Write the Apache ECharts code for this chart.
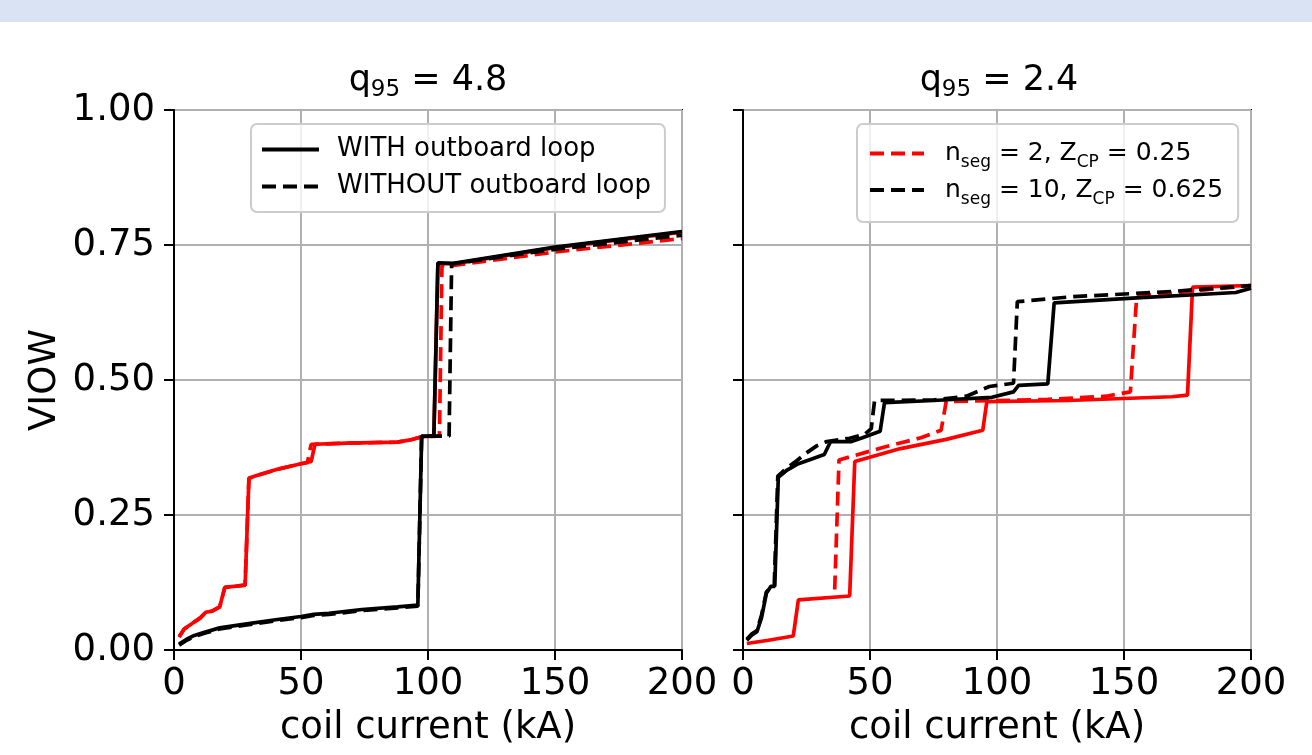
<!DOCTYPE html>
<html><head><meta charset="utf-8">
<script src="https://cdn.jsdelivr.net/npm/echarts@6/dist/echarts.min.js"></script>
<style>html,body{margin:0;padding:0;background:#fff}#c{width:1312px;height:755px}</style>
</head><body><div id="c"></div><script>
// ---------- data ----------
const xTicks = [0, 50, 100, 150, 200];
const yTicks = [0, 0.25, 0.5, 0.75, 1.0];
const titles = ['4.8', '2.4'];
const xName = 'coil current (kA)';
const yName = 'VIOW';

// Panel q95 = 4.8
const A_blackSolid = [[2,0.011],[5,0.02],[8,0.027],[12,0.033],[18,0.041],[28,0.048],[40,0.056],[50,0.062],[55,0.066],[61,0.068],[74,0.075],[88,0.080],[96,0.083],[97.5,0.396],[102.3,0.396],[103.9,0.717],[110,0.716],[150,0.746],[200,0.775]];
const A_blackDashed = [[2,0.009],[5,0.018],[8,0.025],[12,0.031],[18,0.039],[28,0.046],[40,0.054],[50,0.06],[55,0.064],[61,0.066],[74,0.073],[88,0.078],[96,0.081],[97.5,0.396],[108.3,0.396],[109.3,0.715],[150,0.742],[200,0.768]];
const A_redSolid = [[2,0.024],[4,0.039],[8,0.052],[10.5,0.06],[12.5,0.07],[15,0.072],[18,0.08],[20,0.116],[28,0.12],[29.5,0.318],[32.5,0.323],[41,0.335],[50,0.345],[54,0.349],[55.5,0.381],[68,0.383],[88,0.385],[93,0.389],[97.5,0.395],[102.3,0.396],[103.9,0.716],[110,0.715],[150,0.745],[200,0.774]];
const A_redDashed = [[2,0.024],[4,0.039],[8,0.052],[10.5,0.06],[12.5,0.07],[15,0.072],[18,0.08],[20,0.116],[28,0.12],[29.5,0.318],[32.5,0.323],[41,0.335],[50,0.345],[52.5,0.347],[54,0.381],[68,0.383],[88,0.385],[93,0.389],[97.5,0.395],[104.5,0.396],[105.5,0.712],[110,0.712],[150,0.737],[200,0.762]];

// Panel q95 = 2.4
const B_blackSolid = [[1.5,0.018],[3.5,0.028],[5.5,0.034],[7.3,0.06],[9.2,0.105],[11,0.118],[12.5,0.118],[13.2,0.22],[13.9,0.32],[17,0.332],[21.8,0.345],[26,0.352],[32,0.362],[34.5,0.386],[42.7,0.386],[47,0.393],[54,0.405],[55.7,0.458],[75,0.462],[98,0.468],[106.5,0.478],[108.5,0.49],[120,0.493],[122.5,0.643],[155,0.652],[194,0.662],[200,0.67]];
const B_blackDashed = [[1.5,0.02],[3.5,0.03],[5.5,0.036],[7.3,0.065],[9.2,0.107],[11,0.118],[12.3,0.12],[13,0.22],[13.7,0.322],[17,0.336],[21,0.35],[25,0.365],[29,0.378],[33,0.386],[42,0.392],[48,0.4],[50.5,0.41],[51.8,0.462],[75,0.463],[88,0.47],[97,0.488],[106.5,0.494],[108,0.645],[129,0.654],[169,0.664],[200,0.675]];
const B_redSolid = [[1.5,0.012],[10,0.018],[19.8,0.026],[21.8,0.093],[42,0.1],[44,0.349],[62,0.373],[80,0.39],[94.4,0.407],[96,0.46],[128,0.462],[168.8,0.469],[175,0.472],[177,0.672],[200,0.675]];
const B_redDashed = [[36.1,0.112],[37.8,0.352],[55,0.375],[70,0.393],[78,0.407],[80,0.46],[120,0.464],[143,0.47],[152.5,0.478],[155,0.655],[200,0.675]];

// ---------- styling ----------
const FF = 'DejaVu Sans';
const DASH = [14, 7];
const LW = 3.7;
const TICK_FS = 37;

function axisX(gi) {
  return {
    gridIndex: gi, type: 'value', min: xTicks[0], max: xTicks[xTicks.length-1], interval: xTicks[1]-xTicks[0],
    name: xName, nameLocation: 'middle', nameGap: 60,
    nameTextStyle: {fontFamily: FF, fontSize: TICK_FS, color: '#000'},
    axisLine: {show: true, onZero: false, lineStyle: {color: '#000', width: 2}},
    axisTick: {show: true, inside: false, length: 10, lineStyle: {color: '#000', width: 2}},
    axisLabel: {show: true, fontFamily: FF, fontSize: TICK_FS, color: '#000', margin: 16},
    splitLine: {show: true, lineStyle: {color: '#b0b0b0', width: 2}}
  };
}
function axisY(gi, labels) {
  return {
    gridIndex: gi, type: 'value', min: yTicks[0], max: yTicks[yTicks.length-1], interval: yTicks[1]-yTicks[0],
    name: labels ? yName : '', nameLocation: 'middle', nameGap: 110, nameRotate: 90,
    nameTextStyle: {fontFamily: FF, fontSize: TICK_FS, color: '#000'},
    axisLine: {show: true, onZero: false, lineStyle: {color: '#000', width: 2}},
    axisTick: {show: true, inside: false, length: 10, lineStyle: {color: '#000', width: 2}},
    axisLabel: {show: labels, fontFamily: FF, fontSize: TICK_FS, color: '#000', margin: 19, formatter: v => v.toFixed(2)},
    splitLine: {show: true, lineStyle: {color: '#b0b0b0', width: 2}}
  };
}
function line(name, gi, data, color, dashed) {
  return {
    name, type: 'line', xAxisIndex: gi, yAxisIndex: gi, data,
    symbol: 'none', showSymbol: false, silent: true,
    lineStyle: {color, width: LW, type: dashed ? DASH : 'solid'},
    itemStyle: {color}
  };
}

const legendNames = {
  'nseg2': '{n|n}{s|seg}{n| = 2, Z}{s|CP}{n| = 0.25}',
  'nseg10': '{n|n}{s|seg}{n| = 10, Z}{s|CP}{n| = 0.625}'
};
const richLegend = {
  n: {fontFamily: FF, fontSize: 25, color: '#000', lineHeight: 36},
  s: {fontFamily: FF, fontSize: 17, color: '#000', lineHeight: 20, verticalAlign: 'bottom'}
};
const richTitle = {
  a: {fontFamily: FF, fontSize: 35, fontWeight: 'normal', color: '#000', lineHeight: 42},
  b: {fontFamily: FF, fontSize: 23, fontWeight: 'normal', color: '#000', lineHeight: 24, verticalAlign: 'bottom'}
};
const legendIconStyle = {color: 'rgba(0,0,0,0)', borderWidth: 0, opacity: 0};

const option = {
  animation: false,
  backgroundColor: '#ffffff',
  graphic: [{type: 'rect', left: 0, top: 0, shape: {width: 1312, height: 22}, style: {fill: '#dae3f3'}, silent: true}],
  title: [
    {text: '{a|q}{b|95}{a| = ' + titles[0] + '}', left: 423, top: 55, textAlign: 'center', textStyle: {fontWeight: 'normal', rich: richTitle}},
    {text: '{a|q}{b|95}{a| = ' + titles[1] + '}', left: 994, top: 55, textAlign: 'center', textStyle: {fontWeight: 'normal', rich: richTitle}}
  ],
  grid: [
    {left: 174, top: 110, width: 508, height: 540, show: true, borderColor: '#000', borderWidth: 2, backgroundColor: 'transparent'},
    {left: 743, top: 110, width: 508, height: 540, show: true, borderColor: '#000', borderWidth: 2, backgroundColor: 'transparent'}
  ],
  xAxis: [axisX(0), axisX(1)],
  yAxis: [axisY(0, true), axisY(1, false)],
  legend: [
    {
      data: ['WITH outboard loop', 'WITHOUT outboard loop'], orient: 'vertical', left: 251, top: 124,
      padding: [10, 14, 10, 9], itemWidth: 57, itemHeight: 14, itemGap: 6, selectedMode: false,
      backgroundColor: 'rgba(255,255,255,0.8)', borderColor: '#cccccc', borderWidth: 2, borderRadius: 6,
      itemStyle: legendIconStyle, lineStyle: {width: 4},
      textStyle: {fontFamily: FF, fontSize: 26, color: '#000', lineHeight: 31, padding: [0, 0, 0, 13]}
    },
    {
      data: ['nseg2', 'nseg10'], orient: 'vertical', left: 857, top: 124,
      padding: [17, 15, 14, 11], itemWidth: 54, itemHeight: 14, itemGap: 6, selectedMode: false,
      backgroundColor: 'rgba(255,255,255,0.8)', borderColor: '#cccccc', borderWidth: 2, borderRadius: 6,
      itemStyle: legendIconStyle, lineStyle: {width: 4},
      formatter: n => legendNames[n],
      textStyle: {fontFamily: FF, fontSize: 25, color: '#000', padding: [0, 0, 0, 16], rich: richLegend}
    }
  ],
  series: [
    line('A red solid', 0, A_redSolid, '#ff0000', false),
    line('A red dashed', 0, A_redDashed, '#ff0000', true),
    line('WITHOUT outboard loop', 0, A_blackDashed, '#000000', true),
    line('WITH outboard loop', 0, A_blackSolid, '#000000', false),
    line('B red solid', 1, B_redSolid, '#ff0000', false),
    line('nseg2', 1, B_redDashed, '#ff0000', true),
    line('B black solid', 1, B_blackSolid, '#000000', false),
    line('nseg10', 1, B_blackDashed, '#000000', true)
  ]
};
const chart = echarts.init(document.getElementById('c'), null, {renderer: 'canvas'});
chart.setOption(option);
</script></body></html>
